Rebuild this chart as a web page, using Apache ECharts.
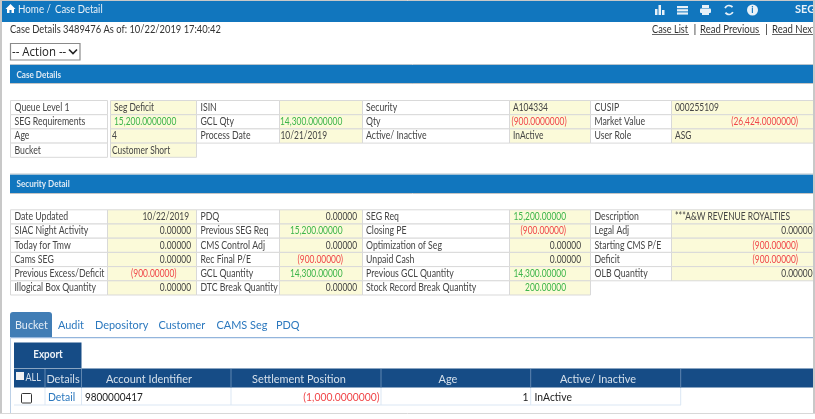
<!DOCTYPE html>
<html>
<head>
<meta charset="utf-8">
<style>
  html, body { margin: 0; padding: 0; background: #fff; }
  #caseDetail { width: 815px; height: 419px; }
</style>
<script src="https://cdn.jsdelivr.net/npm/echarts@6/dist/echarts.min.js"></script>
</head>
<body>
<div id="caseDetail"></div>
<script>
const FONT = 'Lato';
const BLUE = '#1176be';
const NAVY = '#164c86';
const CELL = '#fbfad9';
const LINE = '#d9d9d9';
const DARK = '#454545';
const GREEN = '#3db54a';
const RED = '#f0474a';

const caseColumns = [[10, 107], [110, 196], [196, 279], [279, 362], [362, 509], [509, 590], [590, 671], [671, 815]];
const securityColumns = [[10, 107], [107, 196], [196, 279], [279, 362], [362, 509], [509, 590], [590, 671], [671, 815]];

const labelX = [14.5, 200.5, 366, 594.5];

// [label, value, value x, align, colour]
const caseDetails = [
  [['Queue Level 1', 'Seg Deficit', 114, 'left'], ['ISIN', '', 280, 'left'], ['Security', 'A104334', 513, 'left'], ['CUSIP', '000255109', 675, 'left']],
  [['SEG Requirements', '15,200.0000000', 114, 'left', GREEN], ['GCL Qty', '14,300.0000000', 280, 'left', GREEN], ['Qty', '(900.0000000)', 511.5, 'left', RED], ['Market Value', '(26,424.0000000)', 798, 'right', RED]],
  [['Age', '4', 112, 'left'], ['Process Date', '10/21/2019', 280.5, 'left'], ['Active/ Inactive', 'InActive', 513, 'left'], ['User Role', 'ASG', 675, 'left']],
  [['Bucket', 'Customer Short', 112, 'left']],
];

const securityDetail = [
  [['Date Updated', '10/22/2019', 189, 'right'], ['PDQ', '0.00000', 357, 'right'], ['SEG Req', '15,200.00000', 566, 'right', GREEN], ['Description', '***A&W REVENUE ROYALTIES', 675, 'left']],
  [['SIAC Night Activity', '0.00000', 191, 'right'], ['Previous SEG Req', '15,200.00000', 342.5, 'right', GREEN], ['Closing PE', '(900.00000)', 566, 'right', RED], ['Legal Adj', '0.00000', 812.5, 'right']],
  [['Today for Tmw', '0.00000', 191, 'right'], ['CMS Control Adj', '0.00000', 357, 'right'], ['Optimization of Seg', '0.00000', 581, 'right'], ['Starting CMS P/E', '(900.00000)', 798, 'right', RED]],
  [['Cams SEG', '0.00000', 191, 'right'], ['Rec Final P/E', '(900.00000)', 343, 'right', RED], ['Unpaid Cash', '0.00000', 581, 'right'], ['Deficit', '(900.00000)', 798, 'right', RED]],
  [['Previous Excess/Deficit', '(900.00000)', 176.5, 'right', RED], ['GCL Quantity', '14,300.00000', 342.5, 'right', GREEN], ['Previous GCL Quantity', '14,300.00000', 566, 'right', GREEN], ['OLB Quantity', '0.00000', 812.5, 'right']],
  [['Illogical Box Quantity', '0.00000', 191, 'right'], ['DTC Break Quantity', '0.00000', 357, 'right'], ['Stock Record Break Quantity', '200.00000', 566, 'right', GREEN]],
];

const tabs = [['Audit', 58], ['Depository', 95], ['Customer', 158.5], ['CAMS Seg', 216.5], ['PDQ', 276]];
const gridHeaders = [['Details', 63], ['Account Identifier', 149], ['Settlement Position', 299], ['Age', 448], ['Active/ Inactive', 598]];
const gridLines = [45, 81.5, 231, 381, 530.7, 680.7];

const rect = (x, y, w, h, fill, stroke, r) => ({
  type: 'rect',
  silent: true,
  shape: { x, y, width: w, height: h, r: r || 0 },
  style: { fill: fill || 'transparent', stroke: stroke || null, lineWidth: 1 },
});

// Lato runs wider than the face in the screenshot, so squeeze it with sx
const text = (x, y, str, opts) => {
  const o = opts || {};
  return {
    type: 'text',
    silent: true,
    x,
    y,
    scaleX: o.sx || 0.83,
    style: {
      text: str,
      fill: o.color || DARK,
      fontFamily: o.family || FONT,
      fontSize: o.size || 10.5,
      fontWeight: o.weight || 'normal',
      textAlign: o.align || 'left',
      textVerticalAlign: 'middle',
    },
  };
};

const line = (x1, y1, x2, y2, color, w) => ({
  type: 'line',
  silent: true,
  shape: { x1, y1, x2, y2 },
  style: { stroke: color, lineWidth: w || 1 },
});

function buildTable(rows, columns, top, rowH) {
  const out = [];
  rows.forEach((row, i) => {
    const y = top + i * rowH;
    row.forEach((cell, j) => {
      const lab = columns[j * 2];
      const val = columns[j * 2 + 1];
      out.push(rect(lab[0] + 0.5, y + 0.5, lab[1] - lab[0], rowH, '#fff', LINE));
      out.push(rect(val[0] + 0.5, y + 0.5, val[1] - val[0], rowH, CELL, LINE));
      out.push(text(labelX[j], y + rowH / 2 + 0.5, cell[0]));
      if (cell[1]) {
        out.push(text(cell[2], y + rowH / 2 + 0.5, cell[1], { align: cell[3], color: cell[4], sx: 0.8 }));
      }
    });
  });
  return out;
}

const elements = [
  // page frame and top bar
  rect(0, 0, 815, 419, '#fff'),
  rect(0, 1, 815, 21, BLUE),
  { type: 'polygon', silent: true, shape: { points: [[10.5, 4], [15.5, 9], [14, 9], [14, 13], [11.5, 13], [11.5, 10], [9.5, 10], [9.5, 13], [7, 13], [7, 9], [5.5, 9]] }, style: { fill: '#fff' } },
  text(18, 9, 'Home /', { color: '#e8f1f8', size: 11.5, sx: 0.85 }),
  text(55, 9, 'Case Detail', { color: '#e8f1f8', size: 11.5, sx: 0.83 }),
  rect(655, 9, 2.5, 6, '#e8f1f8'),
  rect(658.5, 5, 2.5, 10, '#e8f1f8'),
  rect(662, 10, 2.5, 5, '#e8f1f8'),
  rect(677, 6, 11, 2.2, '#e8f1f8'),
  rect(677, 9.2, 11, 2.2, '#e8f1f8'),
  rect(677, 12.4, 11, 2.2, '#e8f1f8'),
  rect(702, 5, 7, 3, '#e8f1f8'),
  rect(700, 8.5, 11, 4.5, '#e8f1f8', null, 1),
  rect(702, 11, 7, 4, '#e8f1f8'),
  {
    type: 'arc',
    silent: true,
    shape: { cx: 729, cy: 10, r: 4.4, startAngle: 3.6, endAngle: 5.6 },
    style: { stroke: '#e8f1f8', lineWidth: 1.8, fill: null },
  },
  {
    type: 'arc',
    silent: true,
    shape: { cx: 729, cy: 10, r: 4.4, startAngle: 0.5, endAngle: 2.5 },
    style: { stroke: '#e8f1f8', lineWidth: 1.8, fill: null },
  },
  { type: 'circle', silent: true, shape: { cx: 752.5, cy: 10, r: 5.5 }, style: { fill: '#e8f1f8' } },
  text(752.5, 10, 'i', { color: BLUE, size: 9, weight: 'bold', align: 'center', sx: 1 }),
  text(795, 9, 'SEG', { color: '#e8f1f8', size: 11, weight: 'bold', sx: 1 }),

  // case header
  text(10, 29.5, 'Case Details 3489476 As of: 10/22/2019 17:40:42', { size: 11, color: '#333', sx: 0.85 }),
  text(652, 29.5, 'Case List', { size: 11.5, color: '#333', sx: 0.8 }),
  line(652, 34.5, 689, 34.5, '#666'),
  text(693.5, 29.5, '|', { size: 11.5, color: '#333', sx: 1 }),
  text(700, 29.5, 'Read Previous', { size: 11.5, color: '#333', sx: 0.83 }),
  line(700, 34.5, 760, 34.5, '#666'),
  text(765, 29.5, '|', { size: 11.5, color: '#333', sx: 1 }),
  text(772, 29.5, 'Read Next', { size: 11.5, color: '#333', sx: 0.83 }),
  line(772, 34.5, 815, 34.5, '#666'),

  // action select
  { type: 'rect', silent: true, shape: { x: 10.5, y: 43.5, width: 69.5, height: 16.5 }, style: { fill: '#fff', stroke: '#8a8a8a', lineWidth: 1.2 } },
  text(12, 52, '-- Action --', { size: 13, color: '#222', family: 'Open Sans', sx: 0.88 }),
  { type: 'polyline', silent: true, shape: { points: [[69, 49.5], [73, 53.5], [77, 49.5]] }, style: { stroke: '#222', lineWidth: 1.6, fill: null } },

  // case details
  rect(10, 65, 805, 18.5, BLUE),
  line(10, 64.5, 815, 64.5, '#b8c4cc'),
  line(10, 83.5, 815, 83.5, '#c4c4c4'),
  text(16.5, 75, 'Case Details', { color: '#dfeaf4', size: 9, weight: 'bold', sx: 0.9 }),
  ...buildTable(caseDetails, caseColumns, 100, 14.2),

  // security detail
  rect(10, 174.5, 805, 18.5, BLUE),
  line(10, 174, 815, 174, '#b8c4cc'),
  line(10, 193.5, 815, 193.5, '#c4c4c4'),
  text(16.5, 184, 'Security Detail', { color: '#dfeaf4', size: 9, weight: 'bold', sx: 0.9 }),
  ...buildTable(securityDetail, securityColumns, 209.3, 14.2),

  // tabs
  rect(10, 312, 42, 25.5, '#417db5', null, [3, 3, 0, 0]),
  text(15, 325.5, 'Bucket', { color: '#e4edf6', size: 12, sx: 0.9 }),
  ...tabs.map(([name, x]) => text(x, 325.5, name, { color: '#2b78be', size: 12, sx: 0.91 })),
  line(10, 337.7, 813, 337.7, '#93b5dc', 1.3),
  line(10.5, 337, 10.5, 413, '#bcd0e6'),

  // export button and grid header
  rect(14, 342.5, 67.5, 25.5, NAVY),
  text(48, 354.5, 'Export', { color: '#eef3f8', size: 11, weight: 'bold', align: 'center', sx: 0.9 }),
  rect(14, 368.5, 799, 19, NAVY),
  rect(16, 372, 8, 8, '#f2f2f2'),
  text(25.5, 378, 'ALL', { color: '#d5e0eb', size: 10.5, sx: 0.85 }),
  ...gridHeaders.map(([name, x]) => text(x, 379, name, { color: '#d5e0eb', size: 11.5, align: 'center', sx: 0.95 })),
  ...gridLines.map((x) => line(x, 369, x, 387.5, '#5f86b0')),

  // grid row
  line(14, 405, 681, 405, '#dbe7f4'),
  ...gridLines.map((x) => line(x, 388, x, 405, '#dbe7f4')),
  rect(21.5, 393.5, 10, 9.5, '#fff', '#333', 1),
  text(48, 397, 'Detail', { color: '#2b78be', size: 12, sx: 0.87 }),
  text(85, 397, '9800000417', { color: '#222', size: 12, sx: 0.83 }),
  text(379.5, 397, '(1,000.0000000)', { color: RED, size: 12, align: 'right', sx: 0.86 }),
  text(528.5, 397, '1', { color: '#222', size: 12, align: 'right', sx: 0.86 }),
  text(534.5, 397, 'InActive', { color: '#222', size: 12, sx: 0.86 }),

  // outer frame
  line(1, 0, 1, 413, '#c8c8c8', 2),
  line(0, 0.5, 815, 0.5, '#c8c8c8'),
  line(814, 0, 814, 413, '#c8c8c8', 2),
  line(0, 413.5, 815, 413.5, '#d8d8d8'),
];

const myChart = echarts.init(document.getElementById('caseDetail'));
const option = {
  animation: false,
  graphic: {
    elements,
  },
};
myChart.setOption(option);
</script>
</body>
</html>
